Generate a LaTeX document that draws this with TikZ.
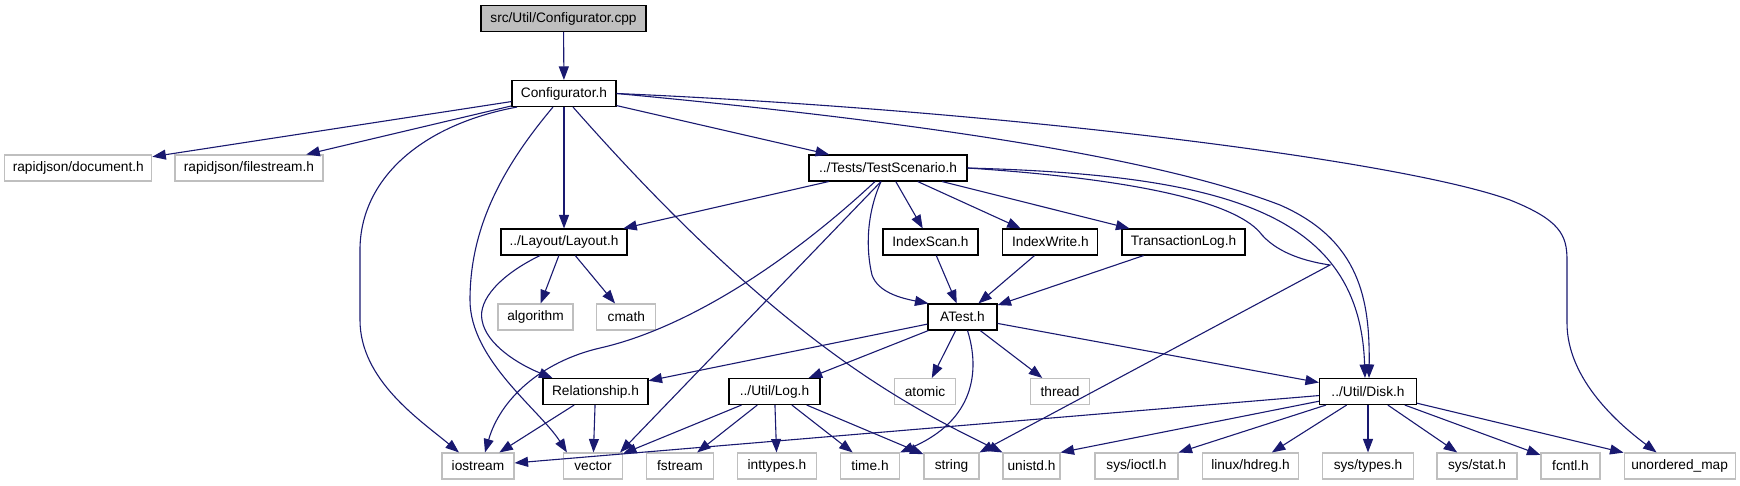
\documentclass[tikz,border=0pt]{standalone}
\usepackage{fontspec}
\setmainfont{Liberation Sans}
\usepackage{tikz}
\usetikzlibrary{arrows.meta}
\definecolor{edgeBlue}{RGB}{25,25,112}
\definecolor{extGrey}{RGB}{191,191,191}

\begin{document}
\begin{tikzpicture}[
  x=1pt, y=-1pt,
  font=\fontsize{13.7}{16}\selectfont,
  box/.style={rectangle, minimum height=26pt, inner sep=0pt, line width=1.1pt},
  doc/.style={box, draw=black, fill=white},
  ext/.style={box, draw=extGrey, fill=white},
  root/.style={box, draw=black, fill=extGrey},
  dep/.style={draw=edgeBlue, line width=1.1pt, -{Triangle[length=13.5pt, width=10pt]}},
]
% Rows: y in px from the top
\def\rowA{18.5}
\def\rowB{93.5}
\def\rowC{168}
\def\rowD{242}
\def\rowE{317}
\def\rowF{391.5}
\def\rowG{466}

\useasboundingbox (0,0) rectangle (1740,485);

% Row 1-2: the file and its header
\node[root, minimum width=165pt] (cfgCpp) at (563.5,\rowA) {src/Util/Configurator.cpp};
\node[doc, minimum width=104pt] (cfgH) at (564,\rowB) {Configurator.h};

% Row 3
\node[ext, minimum width=147pt] (rjDoc) at (78.3,\rowC) {rapidjson/document.h};
\node[ext, minimum width=148pt] (rjStream) at (249,\rowC) {rapidjson/filestream.h};
\node[doc, minimum width=158pt] (testScen) at (888,\rowC) {../Tests/TestScenario.h};

% Row 4
\node[doc, minimum width=126pt] (layoutH) at (564,\rowD) {../Layout/Layout.h};
\node[doc, minimum width=95pt] (idxScan) at (930.5,\rowD) {IndexScan.h};
\node[doc, minimum width=95pt] (idxWrite) at (1050.4,\rowD) {IndexWrite.h};
\node[doc, minimum width=123pt] (txLog) at (1183.5,\rowD) {TransactionLog.h};

% Row 5
\node[ext, minimum width=75pt] (algo) at (535.5,\rowE) {algorithm};
\node[ext, minimum width=59pt] (cmath) at (626.3,\rowE) {cmath};
\node[doc, minimum width=69pt] (aTest) at (962.5,\rowE) {ATest.h};

% Row 6
\node[doc, minimum width=105pt] (relH) at (595.5,\rowF) {Relationship.h};
\node[doc, minimum width=91pt] (logH) at (774.5,\rowF) {../Util/Log.h};
\node[ext, minimum width=61pt] (atomic) at (925,\rowF) {atomic};
\node[ext, minimum width=59pt] (thread) at (1060,\rowF) {thread};
\node[doc, minimum width=97pt] (diskH) at (1368,\rowF) {../Util/Disk.h};

% Row 7: system headers
\node[ext, minimum width=72pt] (iostream) at (478,\rowG) {iostream};
\node[ext, minimum width=59pt] (vector) at (593,\rowG) {vector};
\node[ext, minimum width=67pt] (fstream) at (680,\rowG) {fstream};
\node[ext, minimum width=79pt] (inttypes) at (777,\rowG) {inttypes.h};
\node[ext, minimum width=59pt] (timeH) at (870,\rowG) {time.h};
\node[ext, minimum width=55pt] (string) at (951.5,\rowG) {string};
\node[ext, minimum width=57pt] (unistd) at (1031.5,\rowG) {unistd.h};
\node[ext, minimum width=83pt] (ioctl) at (1136.5,\rowG) {sys/ioctl.h};
\node[ext, minimum width=96pt] (hdreg) at (1250.5,\rowG) {linux/hdreg.h};
\node[ext, minimum width=91pt] (sysTypes) at (1368,\rowG) {sys/types.h};
\node[ext, minimum width=80pt] (sysStat) at (1477,\rowG) {sys/stat.h};
\node[ext, minimum width=59pt] (fcntl) at (1570.5,\rowG) {fcntl.h};
\node[ext, minimum width=111pt] (uMap) at (1679.6,\rowG) {unordered\_map};

% Configurator.cpp / Configurator.h
\draw[dep] (cfgCpp) -- (cfgH);
\draw[dep] (cfgH) -- (rjDoc);
\draw[dep] (cfgH) -- (rjStream);
\draw[dep] (cfgH) -- (testScen);
\draw[dep] (cfgH) -- (layoutH);
\draw[dep] ([xshift=-47pt]cfgH.south) .. controls (420,125) and (360,180) .. (360,250)
  -- (360,320) .. controls (360,380) and (420,420) .. ([xshift=-19pt]iostream.north);
\draw[dep] ([xshift=-11pt]cfgH.south) .. controls (500,170) and (470,230) .. (470,300)
  .. controls (470,360) and (540,410) .. ([xshift=4pt]vector.north west);
\draw[dep] ([xshift=9pt]cfgH.south) .. controls (773,334) and (898,402) .. (unistd.north west);
\draw[dep] (cfgH.east) .. controls (900,120) and (1150,155) .. (1280,205)
  .. controls (1360,240) and (1370,300) .. ([xshift=1pt]diskH.north);
\draw[dep] (cfgH.east) .. controls (1000,110) and (1400,160) .. (1510,200)
  .. controls (1560,220) and (1567,235) .. (1567,260) -- (1567,323)
  .. controls (1567,380) and (1620,425) .. ([xshift=-23pt]uMap.north);

% TestScenario.h
\draw[dep] (testScen) -- (layoutH);
\draw[dep] ([xshift=-13pt]testScen.south) .. controls (780,270) and (680,330) .. (600,348)
  .. controls (540,362) and (500,400) .. ([xshift=7pt]iostream.north);
\draw[dep] ([xshift=-7pt]testScen.south) -- ([xshift=-3pt]vector.north east);
\draw[dep] ([xshift=-7pt]testScen.south) .. controls (866,215) and (866,250) .. (872,275)
  .. controls (878,292) and (900,298) .. ([xshift=1pt]aTest.north west);
\draw[dep] (testScen) -- (idxScan);
\draw[dep] (testScen) -- (idxWrite);
\draw[dep] (testScen) -- (txLog);
\draw[dep] (testScen.east) .. controls (1230,175) and (1360,215) .. ([xshift=-3pt]diskH.north);
\draw[dep] (testScen.east) .. controls (1150,180) and (1240,205) .. (1262,235)
  .. controls (1280,255) and (1310,262) .. (1330,265) -- (string.north east);

% Layout.h
\draw[dep] (layoutH) -- (algo);
\draw[dep] (layoutH) -- (cmath);
\draw[dep] ([xshift=-24pt]layoutH.south) .. controls (500,275) and (478,300) .. (482,320)
  .. controls (486,345) and (520,365) .. ([xshift=10pt]relH.north west);

% tests -> ATest.h
\draw[dep] (idxScan) -- (aTest);
\draw[dep] (idxWrite) -- (aTest);
\draw[dep] (txLog) -- (aTest);

% ATest.h
\draw[dep] (aTest) -- (relH);
\draw[dep] (aTest) -- (logH);
\draw[dep] (aTest) -- (atomic);
\draw[dep] (aTest) -- (thread);
\draw[dep] ([xshift=5pt]aTest.south) .. controls (980,370) and (975,420) .. (timeH.north east);
\draw[dep] (aTest) -- (diskH);

% Relationship.h, Log.h
\draw[dep] (relH) -- (iostream);
\draw[dep] (relH) -- (vector);
\draw[dep] (logH) -- (vector);
\draw[dep] (logH) -- (fstream);
\draw[dep] (logH) -- (inttypes);
\draw[dep] (logH) -- (timeH);
\draw[dep] (logH) -- (string);

% Disk.h
\draw[dep] (diskH) -- (iostream);
\draw[dep] (diskH) -- (unistd.north east);
\foreach \n in {ioctl, hdreg, sysTypes, sysStat, fcntl, uMap}
  \draw[dep] (diskH) -- (\n);

\end{tikzpicture}
\end{document}
